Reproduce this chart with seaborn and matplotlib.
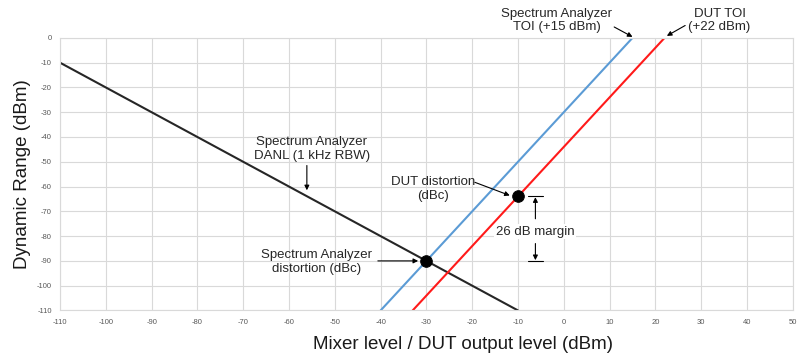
import pandas as pd
import seaborn as sns
import matplotlib.pyplot as plt

# Lines (endpoints, dBm)
danl_x = [-110, -10]
danl_y = [-10, -110]
sa_dist_x = [-40, 15]
sa_dist_y = [-110, 0]
dut_dist_x = [-33, 22]
dut_dist_y = [-110, 0]

# Operating points
point_x = [-30, -10]
point_y = [-90, -64]

x_ticks = list(range(-110, 51, 10))
y_ticks = list(range(-110, 1, 10))


def main():
    sns.set_style("whitegrid")
    plt.rcParams['font.family'] = ['Liberation Sans', 'DejaVu Sans']
    plt.rcParams['axes.unicode_minus'] = False

    fig = plt.figure(figsize=(8, 3.54), dpi=100)
    ax = fig.add_axes([0.075, 0.123, 0.916, 0.770])

    lines = pd.concat([
        pd.DataFrame({'x': danl_x, 'y': danl_y, 'series': 'DANL'}),
        pd.DataFrame({'x': sa_dist_x, 'y': sa_dist_y, 'series': 'SA'}),
        pd.DataFrame({'x': dut_dist_x, 'y': dut_dist_y, 'series': 'DUT'}),
    ])
    palette = {'DANL': '#262626', 'SA': '#5b9bd5', 'DUT': '#ff1a1a'}
    sns.lineplot(data=lines, x='x', y='y', hue='series', palette=palette,
                 linewidth=1.5, legend=False, ax=ax, sort=False)

    sns.scatterplot(x=point_x, y=point_y, color='black', s=70, zorder=5,
                    edgecolor='black', ax=ax)

    ax.set_xlim(-110, 50)
    ax.set_ylim(-110, 0)
    ax.set_xticks(x_ticks)
    ax.set_yticks(y_ticks)
    ax.tick_params(labelsize=5.5, colors='#595959', length=0, pad=6)
    ax.grid(color='#d9d9d9', linewidth=0.8)
    for sp in ax.spines.values():
        sp.set_color('#d9d9d9')
        sp.set_linewidth(0.8)

    ax.set_xlabel("Mixer level / DUT output level (dBm)", fontsize=13.5,
                  labelpad=4, color='#1a1a1a')
    ax.xaxis.set_label_coords(0.55, -0.094)
    ax.xaxis.label.set_va('top')
    ax.set_ylabel("Dynamic Range (dBm)", fontsize=13.5, labelpad=4,
                  color='#1a1a1a')

    arrow = dict(arrowstyle='-|>', color='black', lw=0.8, mutation_scale=7,
                 shrinkA=0, shrinkB=0)
    txt = dict(fontsize=9.5, ha='center', va='center', color='#262626')

    def arr(x0, y0, x1, y1):
        ax.annotate("", xy=(x1, y1), xytext=(x0, y0), arrowprops=arrow,
                    annotation_clip=False)

    ax.text(-55, -45, "Spectrum Analyzer\nDANL (1 kHz RBW)", **txt)
    arr(-56.1, -51.5, -56.1, -61.5)

    ax.text(-54, -90.5, "Spectrum Analyzer\ndistortion (dBc)", **txt)
    arr(-40.6, -90, -31.8, -90)

    ax.text(-28.6, -61, "DUT distortion\n(dBc)", **txt)
    arr(-19.4, -58.3, -11.8, -63.6)

    ax.text(-1.5, 7, "Spectrum Analyzer\nTOI (+15 dBm)", clip_on=False, **txt)
    arr(11, 4.4, 15, 0.4)

    ax.text(34, 7, "DUT TOI\n(+22 dBm)", clip_on=False, **txt)
    arr(26.5, 5, 22.5, 0.8)

    # 26 dB margin marker
    ax.plot([-7.8, -4.6], [-64, -64], color='black', lw=0.8)
    ax.plot([-7.8, -4.6], [-90, -90], color='black', lw=0.8)
    arr(-6.2, -73, -6.2, -64.3)
    arr(-6.2, -83, -6.2, -89.7)
    ax.text(-6.3, -78.3, "26 dB margin", fontsize=9.5, ha='center',
            va='center', color='#262626',
            bbox=dict(facecolor='white', edgecolor='none', pad=1))

    plt.savefig("out.png", dpi=100)
    plt.close()


if __name__ == "__main__":
    main()
